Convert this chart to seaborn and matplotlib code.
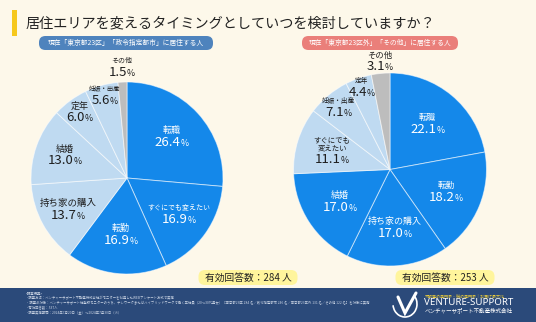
import matplotlib
matplotlib.use("Agg")
import matplotlib.pyplot as plt
import seaborn as sns
import numpy as np
from matplotlib.offsetbox import TextArea, HPacker, VPacker, AnnotationBbox
from matplotlib.patches import FancyBboxPatch, Rectangle, Arc
from matplotlib.lines import Line2D

sns.set_style("white")
plt.rcParams['font.family'] = ['Noto Sans CJK JP', 'DejaVu Sans']

# ---------------- data ----------------
title = "居住エリアを変えるタイミングとしていつを検討していますか？"
left_title = "現在「東京都23区」「政令指定都市」に居住する人"
right_title = "現在「東京都23区外」「その他」に居住する人"

left_labels = ["転職", "すぐにでも変えたい", "転勤", "持ち家の購入", "結婚", "定年", "妊娠・出産", "その他"]
left_values = [26.4, 16.9, 16.9, 13.7, 13.0, 6.0, 5.6, 1.5]
left_groups = ["main", "main", "main", "minor", "minor", "minor", "minor", "other"]
left_n = 284

right_labels = ["転職", "転勤", "持ち家の購入", "結婚", "すぐにでも\n変えたい", "妊娠・出産", "定年", "その他"]
right_values = [22.1, 18.2, 17.0, 17.0, 11.1, 7.1, 4.4, 3.1]
right_groups = ["main", "main", "main", "main", "minor", "minor", "minor", "other"]
right_n = 253

footer_lines = [
    "<調査概要>",
    "・調査方法：ベンチャーサポート不動産株式会社がモニターを利用したWEBアンケート方式で実施",
    "・調査の対象：ベンチャーサポート社登録モニターのうち、テレワークまたはハイブリッドワークで働く正社員（20～30代男女）［東京都23区 284 名／政令指定都市 246 名／東京都23区外 131 名／その他 122 名］を対象に実施",
    "・有効回答数：537人",
    "・調査実施期間：2024年7月20日（金）～2024年7月30日（火）",
]

# ---------------- style ----------------
W, H = 536, 322
BG = "#fdf8ea"
palette = {"main": "#1488ea", "minor": "#bfdaf1", "other": "#bdbdbd"}

left_dist = [0.63, 0.66, 0.60, 0.70, 0.69, 0.84, 0.88, 1.15]
left_name_size = [6.5, 5.0, 6.5, 6.8, 6.5, 6.5, 4.5, 5.0]
right_dist = [0.61, 0.63, 0.61, 0.62, 0.63, 0.83, 0.89, 1.12]
right_name_size = [6.2, 6.2, 6.5, 6.5, 5.3, 4.8, 4.8, 6.0]

fig = plt.figure(figsize=(W / 100, H / 100), dpi=100)
fig.patch.set_facecolor(BG)


def fx(px):
    return px / W


def fy(py):
    return 1 - py / H


def draw_pie(cx, cy, r, values, labels, groups, dists, name_sizes):
    ax = fig.add_axes([fx(cx - r), fy(cy + r), 2 * r / W, 2 * r / H])
    colors = [palette[g] for g in groups]
    wedges, _ = ax.pie(values, colors=colors, startangle=90, counterclock=False,
                       radius=1, wedgeprops=dict(linewidth=0.7, edgecolor=(1, 1, 1, 0.55)))
    ax.set_xlim(-1, 1)
    ax.set_ylim(-1, 1)
    ax.axis("off")
    for w, lab, v, g, d, ns in zip(wedges, labels, values, groups, dists, name_sizes):
        ang = np.deg2rad((w.theta1 + w.theta2) / 2)
        x, y = d * np.cos(ang), d * np.sin(ang)
        tc = "white" if g == "main" else "#1e1e1e"
        name = TextArea(lab, textprops=dict(fontsize=ns, color=tc, ha="center",
                                            multialignment="center", linespacing=1.05))
        num = TextArea(f"{v:.1f}", textprops=dict(fontsize=9.5, color=tc))
        pct = TextArea("%", textprops=dict(fontsize=6.3, color=tc))
        row = HPacker(children=[num, pct], align="baseline", pad=0, sep=0)
        box = VPacker(children=[name, row], align="center", pad=0, sep=0.5)
        ab = AnnotationBbox(box, (x, y), frameon=False, box_alignment=(0.5, 0.5),
                            pad=0, annotation_clip=False)
        ax.add_artist(ab)
    return ax


draw_pie(127, 178, 96, left_values, left_labels, left_groups, left_dist, left_name_size)
draw_pie(390, 169.5, 96.5, right_values, right_labels, right_groups, right_dist, right_name_size)

# title
fig.add_artist(Rectangle((fx(12), fy(36)), 5 / W, 26 / H, transform=fig.transFigure,
                         facecolor="#f6c81d", edgecolor="none"))
fig.text(fx(26), fy(23), title, fontsize=10.2, color="#222222", va="center", ha="left")


def badge(cx, cy, w, h, color, text, tcolor, fs):
    fig.add_artist(FancyBboxPatch((fx(cx - w / 2), fy(cy + h / 2)), w / W, h / H,
                                  boxstyle="round,pad=0,rounding_size=0.012",
                                  transform=fig.transFigure, facecolor=color,
                                  edgecolor="none", mutation_aspect=W / H))
    fig.text(fx(cx), fy(cy), text, fontsize=fs, color=tcolor, ha="center", va="center")


badge(126, 43, 174, 14, "#4e83bd", left_title, "white", 4.9)
badge(380, 43, 156, 14, "#ea7f7a", right_title, "white", 4.9)
badge(248, 277.5, 99, 15, "#fff59c", f"有効回答数：{left_n} 人", "#222222", 7)
badge(445, 277.5, 99, 15, "#fff59c", f"有効回答数：{right_n} 人", "#222222", 7)

# footer
fig.add_artist(Rectangle((0, 0), 1, (H - 288) / H, transform=fig.transFigure,
                         facecolor="#2b4a7a", edgecolor="none"))
for i, line in enumerate(footer_lines):
    fig.text(fx(26), fy(294 + i * 4.6), line, fontsize=2.4, color="#c9d3e3",
             ha="left", va="center")

# logo mark
fig.add_artist(Line2D([fx(398), fx(405), fx(416)], [fy(297), fy(313), fy(293)],
                      transform=fig.transFigure, color="white", lw=2.2,
                      solid_joinstyle="miter"))
fig.add_artist(Arc((fx(405), fy(304)), 24 / W, 26 / H, theta1=190, theta2=60,
                   transform=fig.transFigure, color="white", lw=1.2))
fig.text(fx(425), fy(295.5), "不動産の専門家・税の専門家｜お届け最大化", fontsize=2.9,
         color="#f3d23a", ha="left", va="center")
fig.text(fx(424), fy(302.5), "VENTURE-SUPPORT", fontsize=7, color="white", ha="left",
         va="center", fontweight="bold", family=["Noto Sans", "DejaVu Sans"])
fig.text(fx(425), fy(310), "ベンチャーサポート不動産株式会社", fontsize=4, color="white",
         ha="left", va="center")

fig.savefig("out.png", dpi=100, facecolor=BG)
